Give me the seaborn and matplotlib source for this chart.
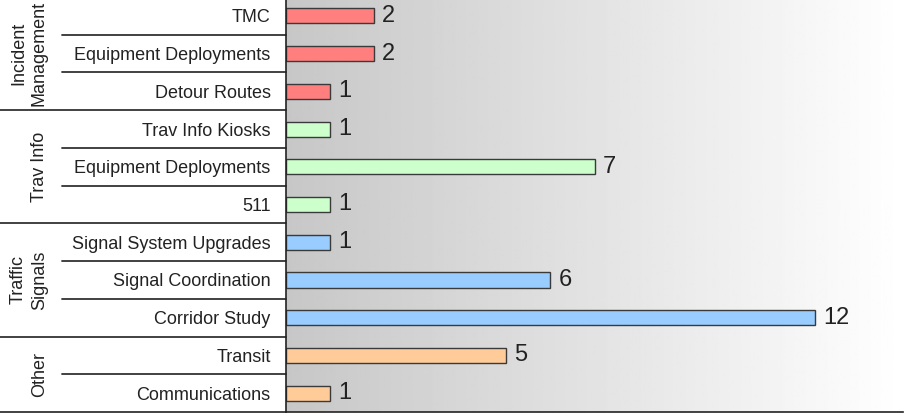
import numpy as np
import pandas as pnd
import seaborn as sns
import matplotlib
matplotlib.use('Agg')
import matplotlib.pyplot as plt
from matplotlib import transforms

# ----------------------
groups = ['Incident\nManagement'] * 3 + ['Trav Info'] * 3 + ['Traffic\nSignals'] * 3 + ['Other'] * 2
items  = ['TMC', 'Equipment Deployments', 'Detour Routes',
          'Trav Info Kiosks', 'Equipment Deployments', '511',
          'Signal System Upgrades', 'Signal Coordination', 'Corridor Study',
          'Transit', 'Communications']
counts = [2, 2, 1, 1, 7, 1, 1, 6, 12, 5, 1]
palette = {'Incident\nManagement': '#ff7f7f', 'Trav Info': '#ccffcc',
           'Traffic\nSignals': '#99ccff', 'Other': '#ffcc99'}
# ----------------------

sns.set_style('white')
plt.rcParams['font.family'] = ['Liberation Sans', 'DejaVu Sans']

df = pnd.DataFrame({'group': groups, 'item': items, 'count': counts})
df['row'] = [f'{i}' for i in range(len(df))]

fig = plt.figure(figsize=(9.06, 4.17), dpi=100)
ax = fig.add_axes([286 / 906, 5 / 417, 617 / 906, 415 / 417])

# gradient background
grad = np.linspace(0.78, 1.0, 256).reshape(1, -1)
ax.imshow(grad, cmap='gray', vmin=0, vmax=1, aspect='auto',
          extent=[0, 14, len(df) - 0.5, -0.5], zorder=0)

sns.barplot(data=df, y='row', x='count', hue='group', palette=palette,
            dodge=False, orient='h', width=0.4, edgecolor='#3a3a3a',
            linewidth=1, saturation=1, legend=False, ax=ax, zorder=2)

ax.set_xlim(0, 14)
ax.set_ylim(len(df) - 0.5, -0.5)
ax.set_xticks(range(0, 15, 2))
ax.set_xticklabels([])
ax.tick_params(axis='x', direction='out', length=5, width=1, color='#222222')
ax.set_yticks(range(len(df)))
ax.set_yticklabels(items, fontsize=13, color='#222222')
ax.tick_params(axis='y', length=0, pad=11)
ax.set_xlabel('')
ax.set_ylabel('')
for side in ['top', 'right']:
    ax.spines[side].set_visible(False)
for side in ['left', 'bottom']:
    ax.spines[side].set_color('#222222')
    ax.spines[side].set_linewidth(1.2)

for i, v in enumerate(counts):
    ax.text(v + 0.18, i, str(v), va='center', ha='left', fontsize=17, color='#222222')

# separators and group labels
trans = transforms.blended_transform_factory(fig.transFigure, ax.transData)
x_axis = 286 / 906
start = 0
for g in dict.fromkeys(groups):
    n = groups.count(g)
    for k in range(1, n):
        ax.plot([62 / 906, x_axis], [start + k - 0.5] * 2, transform=trans,
                color='#333333', lw=1.3, clip_on=False)
    ax.plot([0, x_axis], [start + n - 0.5] * 2, transform=trans,
            color='#333333', lw=1.3, clip_on=False)
    xc = 29 if '\n' in g else 40
    ax.text(xc / 906, start + (n - 1) / 2, g, transform=trans, rotation=90,
            ha='center', va='center', fontsize=13, color='#222222',
            multialignment='center', linespacing=1.3)
    start += n

fig.savefig('out.png', dpi=100)
